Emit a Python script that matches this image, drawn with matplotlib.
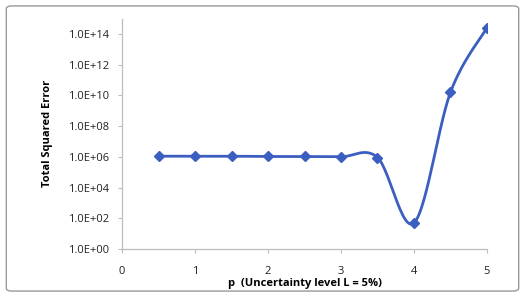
import numpy as np
import matplotlib
matplotlib.use('Agg')
import matplotlib.pyplot as plt
from matplotlib.patches import FancyBboxPatch
from matplotlib.ticker import FixedLocator

p_values = [0.5, 1.0, 1.5, 2.0, 2.5, 3.0, 3.5, 4.0, 4.5, 5.0]
total_error = [1.1e6, 1.1e6, 1.1e6, 1.05e6, 1.05e6, 1.0e6, 9.0e5, 50.0, 1.6e10, 2.5e14]
y_ticks = [1e0, 1e2, 1e4, 1e6, 1e8, 1e10, 1e12, 1e14]
x_ticks = [0, 1, 2, 3, 4, 5]

line_color = '#3B5EC0'
plt.rcParams['font.family'] = ['Open Sans', 'DejaVu Sans']


def smooth(xs, ys, sx=73.0, sy=15.36, n=30):
    # Excel-like smoothed line: Catmull-Rom style bezier in screen-ish space
    X = np.array(xs) * sx
    Y = np.log10(np.array(ys)) * sy
    px, py = [], []
    for i in range(len(X) - 1):
        i0 = max(i - 1, 0)
        i3 = min(i + 2, len(X) - 1)
        c1 = (X[i] + (X[i + 1] - X[i0]) / 6, Y[i] + (Y[i + 1] - Y[i0]) / 6)
        c2 = (X[i + 1] - (X[i3] - X[i]) / 6, Y[i + 1] - (Y[i3] - Y[i]) / 6)
        t = np.linspace(0, 1, n)
        bx = (1 - t) ** 3 * X[i] + 3 * (1 - t) ** 2 * t * c1[0] + 3 * (1 - t) * t ** 2 * c2[0] + t ** 3 * X[i + 1]
        by = (1 - t) ** 3 * Y[i] + 3 * (1 - t) ** 2 * t * c1[1] + 3 * (1 - t) * t ** 2 * c2[1] + t ** 3 * Y[i + 1]
        px.extend(bx)
        py.extend(by)
    return np.array(px) / sx, 10 ** (np.array(py) / sy)


fig = plt.figure(figsize=(5.25, 2.97), dpi=100)
ax = fig.add_axes([0.2324, 0.1616, 0.6952, 0.776])

sx_, sy_ = smooth(p_values, total_error)
ax.plot(sx_, sy_, color=line_color, lw=2.0, solid_capstyle='round')
ax.plot(p_values, total_error, linestyle='none', marker='D', markersize=5.5,
        color=line_color)

ax.set_yscale('log')
ax.set_ylim(1, 1e15)
ax.set_xlim(0, 5)
ax.yaxis.set_major_locator(FixedLocator(y_ticks))
ax.yaxis.set_minor_locator(FixedLocator([]))
ax.set_yticks(y_ticks)
ax.set_yticklabels(['1.0E+%02d' % int(np.log10(v)) for v in y_ticks])
ax.set_xticks(x_ticks)
ax.set_xticklabels([str(v) for v in x_ticks])

for side in ['top', 'right']:
    ax.spines[side].set_visible(False)
for side in ['left', 'bottom']:
    ax.spines[side].set_color('#BDBDBD')
    ax.spines[side].set_linewidth(0.9)
ax.tick_params(axis='both', colors='#BDBDBD', labelcolor='#222222',
               labelsize=8, length=3, width=0.8)
ax.tick_params(axis='y', pad=6)
ax.tick_params(axis='x', pad=9)

ax.set_ylabel('Total Squared Error', fontsize=8, fontweight='bold', labelpad=11)
ax.set_xlabel('p  (Uncertainty level L = 5%)', fontsize=8, fontweight='bold', labelpad=1)

border = FancyBboxPatch((0.012, 0.02), 0.976, 0.96, boxstyle='round,pad=0,rounding_size=0.01',
                        transform=fig.transFigure, fill=False, edgecolor='#9A9A9A', lw=1.0)
fig.patches.append(border)

fig.savefig('out.png', dpi=100)
